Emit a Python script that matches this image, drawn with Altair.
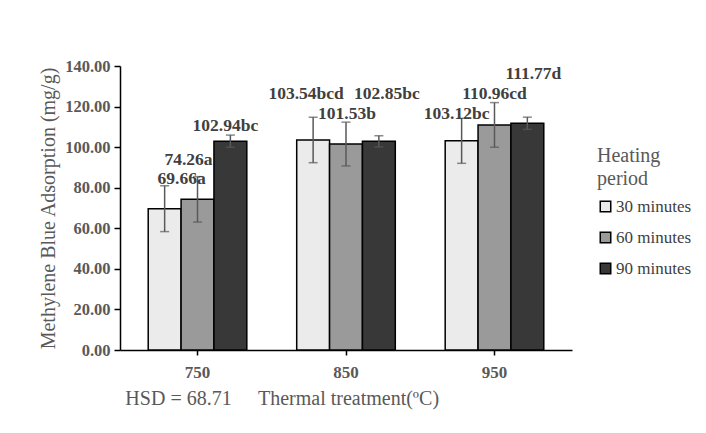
import altair as alt
import pandas as pd

temps = ["750", "850", "950"]
periods = ["30 minutes", "60 minutes", "90 minutes"]
means = [69.66, 74.26, 102.94, 103.54, 101.53, 102.85, 103.12, 110.96, 111.77]
errors = [11.3, 11.2, 3.0, 11.2, 10.8, 2.8, 11.1, 11.0, 3.0]
letters = ["a", "a", "bc", "bcd", "b", "bc", "bc", "cd", "d"]
label_y = [84.2, 93.6, 110.5, 126.0, 116.5, 126.0, 116.5, 126.4, 136.3]
label_dx = [17, -9, -5, -7, 1, 8, -5, 0, 6]
hsd_text = "HSD = 68.71"

rows = []
k = 0
for t in temps:
    for p in periods:
        rows.append({
            "idx": k, "temp": t, "period": p, "mean": means[k],
            "lo": means[k] - errors[k], "hi": means[k] + errors[k],
            "label": f"{means[k]:.2f}{letters[k]}", "ly": label_y[k],
        })
        k += 1
df = pd.DataFrame(rows)

FONT = "Liberation Serif"
GRAY = "#595959"

xenc = alt.X("temp:N", sort=temps,
             scale=alt.Scale(paddingInner=0.336, paddingOuter=0.19),
             axis=alt.Axis(title="Thermal treatment(ºC)", labelAngle=0,
                           labelFont=FONT, labelFontSize=17, labelFontWeight="bold",
                           labelColor=GRAY, labelPadding=9,
                           domainColor="black", domainWidth=1.5,
                           tickColor="black", tickSize=5, tickWidth=1.5,
                           titleFont=FONT, titleFontSize=20, titleFontWeight="normal",
                           titleColor=GRAY, titlePadding=8, titleX=228))
xoff = alt.XOffset("period:N", sort=periods, scale=alt.Scale(paddingInner=0, paddingOuter=0))

base = alt.Chart(df).encode(x=xenc, xOffset=xoff)

bars = base.mark_bar(stroke="black", strokeWidth=1.5).encode(
    y=alt.Y("mean:Q", scale=alt.Scale(domain=[0, 140]),
            axis=alt.Axis(values=list(range(0, 141, 20)), format=".2f", grid=False,
                          title="Methylene Blue Adsorption (mg/g)",
                          labelFont=FONT, labelFontSize=16.5, labelFontWeight="bold",
                          labelColor=GRAY, labelPadding=4,
                          domainColor="black", domainWidth=1.5,
                          tickColor="black", tickSize=6, tickWidth=1.5,
                          titleFont=FONT, titleFontSize=20, titleFontWeight="normal",
                          titleColor=GRAY, titlePadding=6)),
    fill=alt.Fill("period:N", sort=periods,
                  scale=alt.Scale(domain=periods, range=["#ebebeb", "#9a9a9a", "#383838"]),
                  legend=alt.Legend(title=["Heating", "period"], orient="none",
                                    legendX=477, legendY=80, padding=0,
                                    titleFont=FONT, titleFontSize=20, titleFontWeight="normal",
                                    titleColor=GRAY, titleLineHeight=23, titlePadding=9,
                                    labelFont=FONT, labelFontSize=17, labelColor="#404040",
                                    labelOffset=2, symbolType="square", symbolSize=110,
                                    symbolStrokeColor="black", symbolStrokeWidth=1.5,
                                    rowPadding=13)),
)

err = base.mark_rule(color=GRAY, strokeWidth=1.5).encode(y="lo:Q", y2="hi:Q")
cap_lo = base.mark_tick(color=GRAY, size=9, thickness=1.5).encode(y="lo:Q")
cap_hi = base.mark_tick(color=GRAY, size=9, thickness=1.5).encode(y="hi:Q")

labels = []
for i in range(len(means)):
    labels.append(
        base.transform_filter(alt.datum.idx == i)
        .mark_text(dx=label_dx[i], font=FONT, fontSize=17.5, fontWeight="bold",
                   color="#404040", baseline="middle")
        .encode(y="ly:Q", text="label:N")
    )

hsd = alt.Chart(pd.DataFrame({"temp": ["750"], "t": [hsd_text]})).mark_text(
    dx=-19, font=FONT, fontSize=20, color=GRAY, baseline="middle"
).encode(x=alt.X("temp:N", sort=temps), y=alt.value(333), text="t:N")

chart = alt.layer(bars, err, cap_lo, cap_hi, *labels, hsd).properties(
    width=452, height=284,
    autosize=alt.AutoSizeParams(type="none"),
    padding={"left": 112, "top": 58, "right": 126, "bottom": 75},
    background="white",
).configure_view(stroke=None)

chart.save("out.html", embed_options={"renderer": "svg", "actions": False})
